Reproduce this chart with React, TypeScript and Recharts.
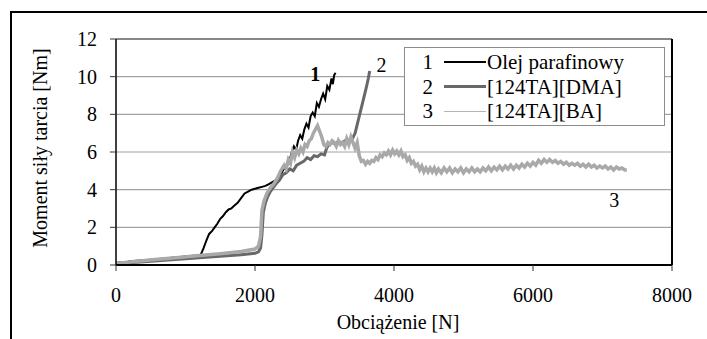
import React from "react";
import {
  LineChart,
  Line,
  XAxis,
  YAxis,
  CartesianGrid,
  ReferenceLine,
  ReferenceDot,
} from "recharts";

const xTicks = [0, 2000, 4000, 6000, 8000];
const yTicks = [0, 2, 4, 6, 8, 10, 12];

const seriesNames = ["Olej parafinowy", "[124TA][DMA]", "[124TA][BA]"];

// 1 - paraffin oil
const oilLoad = [
  0, 50, 100, 200, 400, 600, 800, 1000, 1150, 1220, 1260, 1300, 1340, 1380,
  1420, 1460, 1500, 1540, 1580, 1620, 1660, 1700, 1750, 1800, 1850, 1900, 1950,
  2000, 2050, 2100, 2150, 2200, 2250, 2300, 2350, 2400, 2450, 2500, 2530, 2560,
  2590, 2620, 2650, 2680, 2710, 2740, 2770, 2800, 2830, 2860, 2890, 2920, 2950,
  2980, 3010, 3040, 3070, 3100, 3120, 3140, 3160,
];
const oilTorque = [
  0.1, 0.15, 0.1, 0.2, 0.25, 0.3, 0.38, 0.45, 0.5, 0.55, 0.9, 1.3, 1.65, 1.8,
  2.0, 2.2, 2.45, 2.6, 2.8, 2.95, 3.0, 3.15, 3.3, 3.55, 3.8, 3.9, 4.0, 4.05,
  4.1, 4.15, 4.2, 4.3, 4.4, 4.5, 4.7, 5.0, 5.3, 5.6, 6.0, 6.3, 6.1, 6.6, 6.9,
  6.7, 7.2, 7.5, 7.3, 7.9, 8.1, 7.9, 8.6, 8.4, 8.8, 9.1, 8.8, 9.5, 9.3, 9.9,
  9.6, 10.1, 10.2,
];

// 2 - [124TA][DMA]
const dmaLoad = [
  0, 100, 300, 600, 900, 1200, 1500, 1800, 2000, 2050, 2080, 2100, 2120, 2150,
  2180, 2220, 2260, 2300, 2350, 2400, 2450, 2500, 2550, 2600, 2650, 2700, 2750,
  2800, 2850, 2900, 2950, 3000, 3030, 3060, 3100, 3150, 3200, 3250, 3300, 3350,
  3400, 3440, 3480, 3520, 3560, 3600, 3630, 3650,
];
const dmaTorque = [
  0.05, 0.1, 0.15, 0.22, 0.3, 0.38, 0.46, 0.55, 0.62, 0.7, 0.9, 1.6, 2.8, 3.3,
  3.6, 3.9, 4.1, 4.3, 4.5, 4.8, 4.9, 5.1, 5.0, 5.3, 5.4, 5.5, 5.7, 5.6, 5.8,
  5.75, 5.9, 5.85, 6.2, 6.4, 6.5, 6.45, 6.55, 6.5, 6.6, 6.55, 6.7, 7.0, 7.6,
  8.2, 8.8, 9.4, 9.9, 10.3,
];

// 3 - [124TA][BA]
const baLoad = [
  0, 100, 300, 600, 900, 1200, 1500, 1800, 2000, 2050,
  2080, 2100, 2130, 2170, 2220, 2270, 2320, 2370, 2420, 2450,
  2480, 2510, 2540, 2570, 2600, 2630, 2660, 2690, 2720, 2750,
  2780, 2810, 2840, 2870, 2900, 2930, 2960, 2990, 3020, 3050,
  3080, 3110, 3140, 3170, 3200, 3230, 3260, 3290, 3320, 3350,
  3380, 3410, 3440, 3470, 3500, 3530, 3560, 3590, 3620, 3650,
  3680, 3710, 3740, 3770, 3800, 3830, 3860, 3890, 3920, 3950,
  3980, 4010, 4040, 4070, 4100, 4130, 4160, 4190, 4220, 4250,
  4280, 4310, 4340, 4370, 4400, 4430, 4460, 4490, 4520, 4550,
  4580, 4610, 4640, 4680, 4720, 4760, 4800, 4840, 4880, 4920,
  4960, 5000, 5040, 5080, 5120, 5160, 5200, 5240, 5280, 5320,
  5360, 5400, 5440, 5480, 5520, 5560, 5600, 5640, 5680, 5720,
  5760, 5800, 5840, 5880, 5920, 5960, 6000, 6040, 6080, 6120,
  6160, 6200, 6240, 6280, 6320, 6360, 6400, 6440, 6480, 6520,
  6560, 6600, 6640, 6680, 6720, 6760, 6800, 6840, 6880, 6920,
  6960, 7000, 7040, 7080, 7120, 7160, 7200, 7240, 7280, 7320,
  7350,
];
const baTorque = [
  0.1, 0.12, 0.2, 0.3, 0.4, 0.5, 0.6, 0.72, 0.85, 1.0,
  1.5, 2.9, 3.4, 3.8, 4.1, 4.3, 4.6, 5.0, 5.3, 5.1,
  5.6, 5.4, 6.0, 5.7, 6.1, 5.9, 6.2, 6.0, 6.4, 6.3,
  6.6, 6.7, 7.0, 7.2, 7.4, 7.1, 6.8, 6.4, 6.3, 6.5,
  6.4, 6.6, 6.5, 6.3, 6.6, 6.4, 6.5, 6.3, 6.7, 6.4,
  6.8, 6.5, 6.2, 6.5, 5.8, 5.5, 5.55, 5.35, 5.5, 5.4,
  5.55, 5.5, 5.7, 5.6, 5.85, 5.75, 5.95, 5.85, 6.05, 5.85,
  6.1, 5.9, 6.05, 5.85, 6.05, 5.75, 5.85, 5.55, 5.7, 5.4,
  5.5, 5.25, 5.35, 5.05, 5.25, 4.95, 5.15, 4.95, 5.15, 4.95,
  5.15, 4.9, 5.1, 4.9, 5.15, 4.95, 5.15, 4.9, 5.1, 4.95,
  5.15, 4.9, 5.1, 4.95, 5.15, 4.95, 5.1, 4.95, 5.15, 5.0,
  5.2, 5.0, 5.2, 5.05, 5.25, 5.05, 5.25, 5.1, 5.3, 5.1,
  5.3, 5.15, 5.35, 5.2, 5.4, 5.25, 5.45, 5.3, 5.55, 5.4,
  5.6, 5.45, 5.6, 5.45, 5.55, 5.4, 5.5, 5.35, 5.45, 5.3,
  5.4, 5.3, 5.4, 5.25, 5.35, 5.2, 5.35, 5.2, 5.3, 5.15,
  5.25, 5.15, 5.25, 5.1, 5.2, 5.05, 5.2, 5.1, 5.15, 5.05,
  5.05,
];

const toPoints = (loads: number[], torques: number[]) =>
  loads.map((load, i) => ({ load, torque: torques[i] }));

const oilData = toPoints(oilLoad, oilTorque);
const dmaData = toPoints(dmaLoad, dmaTorque);
const baData = toPoints(baLoad, baTorque);

const font = "'Liberation Serif', 'Times New Roman', serif";
const colors = ["#000000", "#686868", "#a9a9a9"];

function LegendBox() {
  const lines = [
    { color: colors[0], width: 2 },
    { color: colors[1], width: 3 },
    { color: "#b4b4b4", width: 1 },
  ];
  return (
    <div
      style={{
        position: "absolute",
        left: 404,
        top: 47,
        width: 259,
        height: 77,
        border: "1px solid #8c8c8c",
        background: "#fff",
        fontFamily: font,
        fontSize: 21,
        color: "#000",
      }}
    >
      {seriesNames.map((name, i) => (
        <div
          key={name}
          style={{ position: "absolute", left: 0, top: 2 + i * 24.5, height: 24, width: "100%", lineHeight: "24px" }}
        >
          <span style={{ position: "absolute", left: 12, width: 16, textAlign: "right" }}>{i + 1}</span>
          <span
            style={{
              position: "absolute",
              left: 39,
              width: 42,
              top: 12 - lines[i].width / 2,
              height: lines[i].width,
              background: lines[i].color,
            }}
          />
          <span style={{ position: "absolute", left: 82, whiteSpace: "nowrap" }}>{name}</span>
        </div>
      ))}
    </div>
  );
}

export default function App() {
  const tickStyle = { fontFamily: font, fontSize: 20, fill: "#000" };
  return (
    <div
      style={{
        position: "fixed",
        left: 0,
        top: 0,
        width: 707,
        height: 339,
        overflow: "hidden",
        background: "#fff",
      }}
    >
      <div
        style={{
          position: "absolute",
          left: 10,
          top: 11,
          width: 760,
          height: 400,
          borderLeft: "2px solid #000",
          borderTop: "2px solid #000",
        }}
      />
      <LineChart
        width={707}
        height={339}
        margin={{ top: 39, right: 35, bottom: 24, left: 0 }}
        style={{ position: "absolute", left: 0, top: 0 }}
      >
        <CartesianGrid vertical={false} stroke="#a3a3a3" strokeWidth={1.2} />
        <XAxis
          type="number"
          dataKey="load"
          domain={[0, 8000]}
          ticks={xTicks}
          height={50}
          tickSize={6}
          tickMargin={17}
          axisLine={{ stroke: "#000", strokeWidth: 2 }}
          tickLine={{ stroke: "#333" }}
          tick={tickStyle}
          label={{
            content: () => (
              <text x={398} y={322} textAnchor="middle" dominantBaseline="central" style={{ fontFamily: font, fontSize: 20, fill: "#000" }}>
                Obciążenie [N]
              </text>
            ),
          }}
        />
        <YAxis
          type="number"
          dataKey="torque"
          domain={[0, 12]}
          ticks={yTicks}
          width={116}
          tickSize={6}
          tickMargin={13}
          axisLine={{ stroke: "#000", strokeWidth: 1.5 }}
          tickLine={{ stroke: "#333" }}
          tick={tickStyle}
          label={{
            content: () => (
              <text
                x={40}
                y={148}
                textAnchor="middle"
                dominantBaseline="central"
                transform="rotate(-90 40 148)"
                style={{ fontFamily: font, fontSize: 20, fill: "#000" }}
              >
                Moment siły tarcia [Nm]
              </text>
            ),
          }}
        />
        <ReferenceLine y={12} stroke="#6e6e6e" strokeWidth={1.5} />
        <ReferenceLine x={8000} stroke="#000" strokeWidth={2} />
        <Line data={oilData} dataKey="torque" name={seriesNames[0]} type="linear" stroke={colors[0]} strokeWidth={2} dot={false} isAnimationActive={false} />
        <Line data={dmaData} dataKey="torque" name={seriesNames[1]} type="linear" stroke={colors[1]} strokeWidth={3} dot={false} isAnimationActive={false} />
        <Line data={baData} dataKey="torque" name={seriesNames[2]} type="linear" stroke={colors[2]} strokeWidth={3.5} dot={false} isAnimationActive={false} />
        <ReferenceDot x={2866} y={10.16} r={0} label={{ value: "1", position: "center", style: { fontFamily: font, fontSize: 20, fontWeight: "bold", fill: "#000" } }} />
        <ReferenceDot x={3819} y={10.64} r={0} label={{ value: "2", position: "center", style: { fontFamily: font, fontSize: 20, fill: "#000" } }} />
        <ReferenceDot x={7170} y={3.46} r={0} label={{ value: "3", position: "center", style: { fontFamily: font, fontSize: 20, fill: "#000" } }} />
      </LineChart>
      <LegendBox />
    </div>
  );
}
